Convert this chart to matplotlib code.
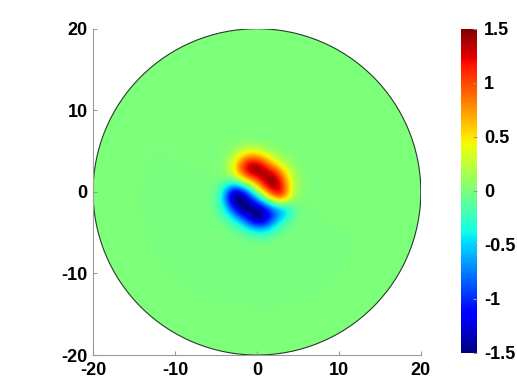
import numpy as np
import matplotlib
matplotlib.use("Agg")
import matplotlib.pyplot as plt
from matplotlib.patches import Circle

# --- data ---
domain_radius = 20
# blobs composing the field: centre x, centre y, amplitude, width
blob_x = [1.9, -1.1, 0.4, 2.9, -1.9, 0.9, -0.4, 3.2, -2.9]
blob_y = [1.2, 2.9, 3.1, -0.5, -1.3, -2.9, -3.1, -2.3, -0.2]
blob_amp = [1.25, 0.95, 0.45, 0.5, -1.25, -0.95, -0.45, -0.35, -0.45]
blob_w = [1.45, 1.35, 1.25, 0.95, 1.45, 1.35, 1.25, 1.0, 0.95]
clim = (-1.5, 1.5)
x_ticks = [-20, -10, 0, 10, 20]
y_ticks = [-20, -10, 0, 10, 20]
cbar_ticks = [-1.5, -1, -0.5, 0, 0.5, 1, 1.5]
cbar_labels = ['-1.5', '-1', '-0.5', '0', '0.5', '1', '1.5']

plt.rcParams['font.family'] = ['Liberation Sans', 'DejaVu Sans']
plt.rcParams['font.weight'] = 'bold'

fig = plt.figure(figsize=(5.17, 3.83), dpi=100)
ax = fig.add_axes([0.180, 0.073, 0.634, 0.852])
cax = fig.add_axes([0.8917, 0.079, 0.031, 0.846])

n = 600
g = np.linspace(-domain_radius, domain_radius, n)
X, Y = np.meshgrid(g, g)
Z = np.zeros_like(X)
for bx, by, a, w in zip(blob_x, blob_y, blob_amp, blob_w):
    Z += a * np.exp(-((X - bx) ** 2 + (Y - by) ** 2) / (2 * w ** 2))

im = ax.imshow(Z, origin='lower', extent=[-domain_radius, domain_radius, -domain_radius, domain_radius],
               cmap='jet', vmin=clim[0], vmax=clim[1], interpolation='bilinear')
circ = Circle((0, 0), domain_radius, transform=ax.transData, facecolor='none',
              edgecolor='#2a3a2a', linewidth=0.8)
im.set_clip_path(circ)
ax.add_patch(circ)

ax.set_xlim(-domain_radius, domain_radius)
ax.set_ylim(-domain_radius, domain_radius)
ax.set_aspect('auto')
ax.set_xticks(x_ticks)
ax.set_yticks(y_ticks)
ax.set_xticklabels([str(t) for t in x_ticks])
ax.set_yticklabels([str(t) for t in y_ticks])
for s in ['top', 'right']:
    ax.spines[s].set_visible(False)
for s in ['left', 'bottom']:
    ax.spines[s].set_color('#9a9a9a')
    ax.spines[s].set_linewidth(0.8)
ax.tick_params(direction='in', length=3, color='#9a9a9a', labelsize=13)
ax.tick_params(axis='x', pad=5)
ax.tick_params(axis='y', pad=4)

cb = fig.colorbar(im, cax=cax, ticks=cbar_ticks)
cb.outline.set_visible(False)
cb.ax.set_yticklabels(cbar_labels)
cb.ax.tick_params(direction='in', length=3, color='#9a9a9a', labelsize=13, pad=5)

fig.savefig('out.png', dpi=100, facecolor='white')
